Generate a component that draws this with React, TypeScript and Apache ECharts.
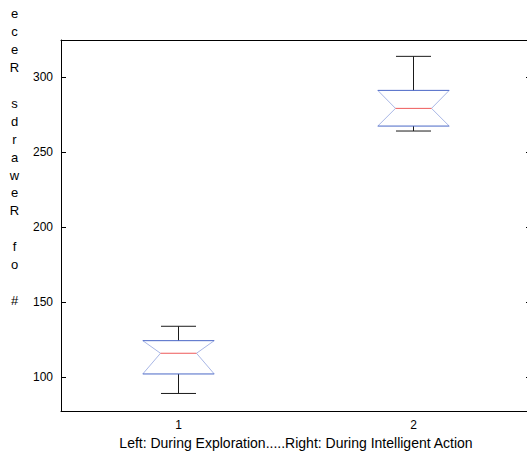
import React, { useEffect, useRef } from "react";
import * as echarts from "echarts";

const categories = ["1", "2"];
const lowerWhisker = [89, 264];
const q1 = [102, 267.3];
const median = [115.8, 279.1];
const q3 = [124.2, 291.1];
const upperWhisker = [133.8, 313.8];
const yMin = 77.3;
const yMax = 324.7;
const xTitle = "Left: During Exploration.....Right: During Intelligent Action";
const yTitle = "# of Rewards Rece";

export default function App() {
  const ref = useRef<HTMLDivElement>(null);
  useEffect(() => {
    document.body.style.margin = "0";
    const chart = echarts.init(ref.current!, null, { renderer: "svg" });
    const data = categories.map((_, i) => [i, lowerWhisker[i], q1[i], median[i], q3[i], upperWhisker[i]]);
    const font = "Liberation Sans, Arial, Helvetica, sans-serif";
    const stacked = yTitle.split("").reverse().join("\n");
    chart.setOption({
      animation: false,
      backgroundColor: "#fff",
      grid: { left: 61, top: 40, width: 470, height: 371, outerBoundsMode: "none", containLabel: false },
      xAxis: [
        {
          type: "category",
          data: categories,
          position: "bottom",
          boundaryGap: true,
          axisLine: { lineStyle: { color: "#000", width: 1 } },
          axisTick: { inside: true, alignWithLabel: true, length: 5, lineStyle: { color: "#000" } },
          axisLabel: { color: "#000", fontSize: 12, fontFamily: font, margin: 8 },
          splitLine: { show: false },
          name: xTitle,
          nameLocation: "middle",
          nameGap: 25,
          nameTextStyle: { color: "#000", fontSize: 14, fontFamily: font },
        },
        {
          type: "category",
          data: categories,
          position: "top",
          boundaryGap: true,
          axisLine: { lineStyle: { color: "#000", width: 1 } },
          axisTick: { inside: true, alignWithLabel: true, length: 5, lineStyle: { color: "#000" } },
          axisLabel: { show: false },
          splitLine: { show: false },
        },
      ],
      yAxis: [
        {
          type: "value",
          min: yMin,
          max: yMax,
          position: "left",
          axisLine: { show: true, lineStyle: { color: "#000", width: 1 } },
          axisTick: { show: true, inside: true, length: 5, lineStyle: { color: "#000" } },
          axisLabel: {
            color: "#000",
            fontSize: 12,
            fontFamily: font,
            margin: 8,
            showMinLabel: false,
            showMaxLabel: false,
            formatter: (v: number) => (Math.abs(v % 50) < 1e-6 ? String(v) : ""),
          },
          splitLine: { show: false },
        },
        {
          type: "value",
          min: yMin,
          max: yMax,
          position: "right",
          axisLine: { show: true, lineStyle: { color: "#000", width: 1 } },
          axisTick: { show: true, inside: true, length: 5, lineStyle: { color: "#000" } },
          axisLabel: { show: false },
          splitLine: { show: false },
        },
      ],
      graphic: [
        {
          type: "text",
          x: 14.5,
          y: 5,
          style: {
            text: stacked,
            fill: "#000",
            font: `13px ${font}`,
            textAlign: "center",
            textVerticalAlign: "top",
            lineHeight: 17.9,
          },
        },
      ],
      series: [
        {
          type: "custom",
          xAxisIndex: 0,
          yAxisIndex: 0,
          data,
          renderItem: (params: any, api: any) => {
            const i = api.value(0);
            const pt = (v: number) => api.coord([i, v]);
            const bw = api.size([1, 0])[0];
            const cx = pt(api.value(3))[0];
            const half = bw * 0.152;
            const notch = bw * 0.0766;
            const cap = bw * 0.0745;
            const yLw = pt(api.value(1))[1];
            const yQ1 = pt(api.value(2))[1];
            const yMed = pt(api.value(3))[1];
            const yQ3 = pt(api.value(4))[1];
            const yUw = pt(api.value(5))[1];
            const blk = { stroke: "#1a1a1a", lineWidth: 1 };
            const blue = { stroke: "#4a67c6", lineWidth: 1 };
            const light = { stroke: "#a9b7e6", lineWidth: 1, fill: "none" };
            return {
              type: "group",
              children: [
                { type: "line", shape: { x1: cx, y1: yQ3, x2: cx, y2: yUw }, style: blk },
                { type: "line", shape: { x1: cx - cap, y1: yUw, x2: cx + cap, y2: yUw }, style: blk },
                { type: "line", shape: { x1: cx, y1: yQ1, x2: cx, y2: yLw }, style: blk },
                { type: "line", shape: { x1: cx - cap, y1: yLw, x2: cx + cap, y2: yLw }, style: blk },
                { type: "polyline", shape: { points: [[cx - half, yQ3], [cx - notch, yMed], [cx - half, yQ1]] }, style: light },
                { type: "polyline", shape: { points: [[cx + half, yQ3], [cx + notch, yMed], [cx + half, yQ1]] }, style: light },
                { type: "line", shape: { x1: cx - half, y1: yQ3, x2: cx + half, y2: yQ3 }, style: blue },
                { type: "line", shape: { x1: cx - half, y1: yQ1, x2: cx + half, y2: yQ1 }, style: blue },
                { type: "line", shape: { x1: cx - notch, y1: yMed, x2: cx + notch, y2: yMed }, style: { stroke: "#ee5a5a", lineWidth: 1 } },
              ],
            };
          },
        },
      ],
    });
    return () => chart.dispose();
  }, []);
  return <div ref={ref} style={{ width: 527, height: 452 }} />;
}
